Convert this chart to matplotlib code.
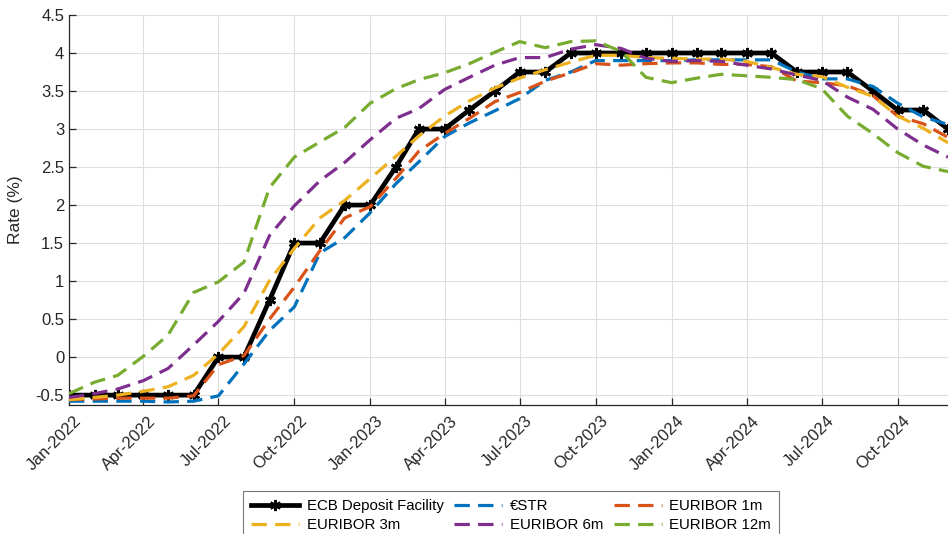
import pandas as pd
import matplotlib
matplotlib.use("Agg")
import matplotlib.pyplot as plt
import matplotlib.dates as mdates
import matplotlib.transforms as mtransforms
from matplotlib.ticker import FuncFormatter

plt.rcParams["font.family"] = ["Liberation Sans", "DejaVu Sans"]

# monthly observations, Jan-2022 .. Dec-2024
months = pd.date_range("2022-01-01", "2024-12-01", freq="MS")

ecb_dfr = [-0.5, -0.5, -0.5, -0.5, -0.5, -0.5, 0.0, 0.0, 0.75, 1.5, 1.5, 2.0,
           2.0, 2.5, 3.0, 3.0, 3.25, 3.5, 3.75, 3.75, 4.0, 4.0, 4.0, 4.0,
           4.0, 4.0, 4.0, 4.0, 4.0, 3.75, 3.75, 3.75, 3.5, 3.25, 3.25, 3.0]
estr = [-0.58, -0.58, -0.58, -0.58, -0.59, -0.58, -0.51, -0.09, 0.35, 0.66, 1.37, 1.57,
        1.90, 2.28, 2.57, 2.90, 3.08, 3.24, 3.40, 3.64, 3.75, 3.90, 3.90, 3.90,
        3.90, 3.91, 3.91, 3.91, 3.91, 3.75, 3.66, 3.66, 3.56, 3.34, 3.16, 3.06]
euribor_1m = [-0.56, -0.55, -0.54, -0.54, -0.54, -0.51, -0.10, 0.02, 0.50, 0.92, 1.40, 1.83,
              1.98, 2.35, 2.71, 2.94, 3.14, 3.36, 3.48, 3.63, 3.74, 3.86, 3.84, 3.86,
              3.87, 3.87, 3.85, 3.85, 3.82, 3.63, 3.61, 3.57, 3.44, 3.17, 3.07, 2.89]
euribor_3m = [-0.56, -0.53, -0.50, -0.45, -0.39, -0.24, 0.04, 0.40, 1.01, 1.43, 1.83, 2.06,
              2.35, 2.64, 2.91, 3.17, 3.37, 3.54, 3.67, 3.78, 3.88, 3.97, 3.97, 3.94,
              3.93, 3.92, 3.92, 3.89, 3.81, 3.72, 3.69, 3.55, 3.43, 3.17, 3.01, 2.82]
euribor_6m = [-0.53, -0.48, -0.42, -0.31, -0.15, 0.16, 0.47, 0.84, 1.60, 1.99, 2.32, 2.56,
              2.86, 3.14, 3.27, 3.52, 3.68, 3.84, 3.94, 3.94, 4.05, 4.11, 4.06, 3.93,
              3.89, 3.90, 3.89, 3.84, 3.79, 3.71, 3.64, 3.42, 3.26, 3.00, 2.79, 2.63]
euribor_12m = [-0.48, -0.33, -0.24, 0.01, 0.29, 0.85, 0.99, 1.25, 2.23, 2.63, 2.83, 3.02,
               3.34, 3.53, 3.65, 3.74, 3.86, 4.01, 4.15, 4.07, 4.15, 4.16, 4.02, 3.68,
               3.61, 3.67, 3.72, 3.70, 3.68, 3.65, 3.53, 3.17, 2.94, 2.69, 2.51, 2.44]

series = [
    ("€STR", estr, "#0072BD"),
    ("EURIBOR 1m", euribor_1m, "#D95319"),
    ("EURIBOR 3m", euribor_3m, "#EDB120"),
    ("EURIBOR 6m", euribor_6m, "#7E2F8E"),
    ("EURIBOR 12m", euribor_12m, "#77AC30"),
]

fig = plt.figure(figsize=(9.48, 5.34), dpi=100)
ax = fig.add_axes([69 / 948, (534 - 405) / 534, (948 - 69) / 948, 390 / 534])

handles = {}
h, = ax.plot(months, ecb_dfr, color="black", lw=3.4, marker=(6, 2, 0),
             markersize=8, mew=2, label="ECB Deposit Facility", zorder=2)
handles["ECB Deposit Facility"] = h
for name, vals, col in series:
    h, = ax.plot(months, vals, color=col, lw=2.3, linestyle=(0, (4.8, 2.6)),
                 label=name, zorder=3)
    handles[name] = h

ax.set_xlim(months[0], months[-1])
ax.set_ylim(-0.63, 4.5)
ax.set_yticks([-0.5, 0, 0.5, 1, 1.5, 2, 2.5, 3, 3.5, 4, 4.5])
ax.yaxis.set_major_formatter(FuncFormatter(lambda v, p: f"{v:g}"))
ax.xaxis.set_major_locator(mdates.MonthLocator(bymonth=[1, 4, 7, 10]))
ax.xaxis.set_major_formatter(mdates.DateFormatter("%b-%Y"))

grey = "#262626"
for s in ["top", "right"]:
    ax.spines[s].set_visible(False)
for s in ["left", "bottom"]:
    ax.spines[s].set_color(grey)
    ax.spines[s].set_linewidth(0.9)
ax.tick_params(direction="in", length=5, width=0.9, colors=grey, labelsize=12)
ax.tick_params(axis="x", pad=6)
shift = mtransforms.ScaledTranslation(5 / 100, 0, fig.dpi_scale_trans)
for lbl in ax.get_xticklabels():
    lbl.set_rotation(45)
    lbl.set_ha("right")
    lbl.set_va("top")
    lbl.set_rotation_mode("anchor")
    lbl.set_transform(lbl.get_transform() + shift)
ax.grid(True, color="#dedede", lw=0.8)
ax.set_axisbelow(True)
ax.set_ylabel("Rate (%)", fontsize=12.5, color=grey, labelpad=9)

order = ["ECB Deposit Facility", "EURIBOR 3m", "€STR", "EURIBOR 6m", "EURIBOR 1m", "EURIBOR 12m"]
leg = fig.legend([handles[k] for k in order], order, ncol=3, loc="upper left",
                 bbox_to_anchor=(243 / 948, 1 - 491 / 534), borderaxespad=0,
                 fontsize=10.8, frameon=True, fancybox=False, edgecolor="#555555",
                 handlelength=3.2, handletextpad=0.5, columnspacing=0.7,
                 labelspacing=0.33, borderpad=0.55)
leg.get_frame().set_linewidth(0.8)

fig.savefig("out.png", dpi=100)
